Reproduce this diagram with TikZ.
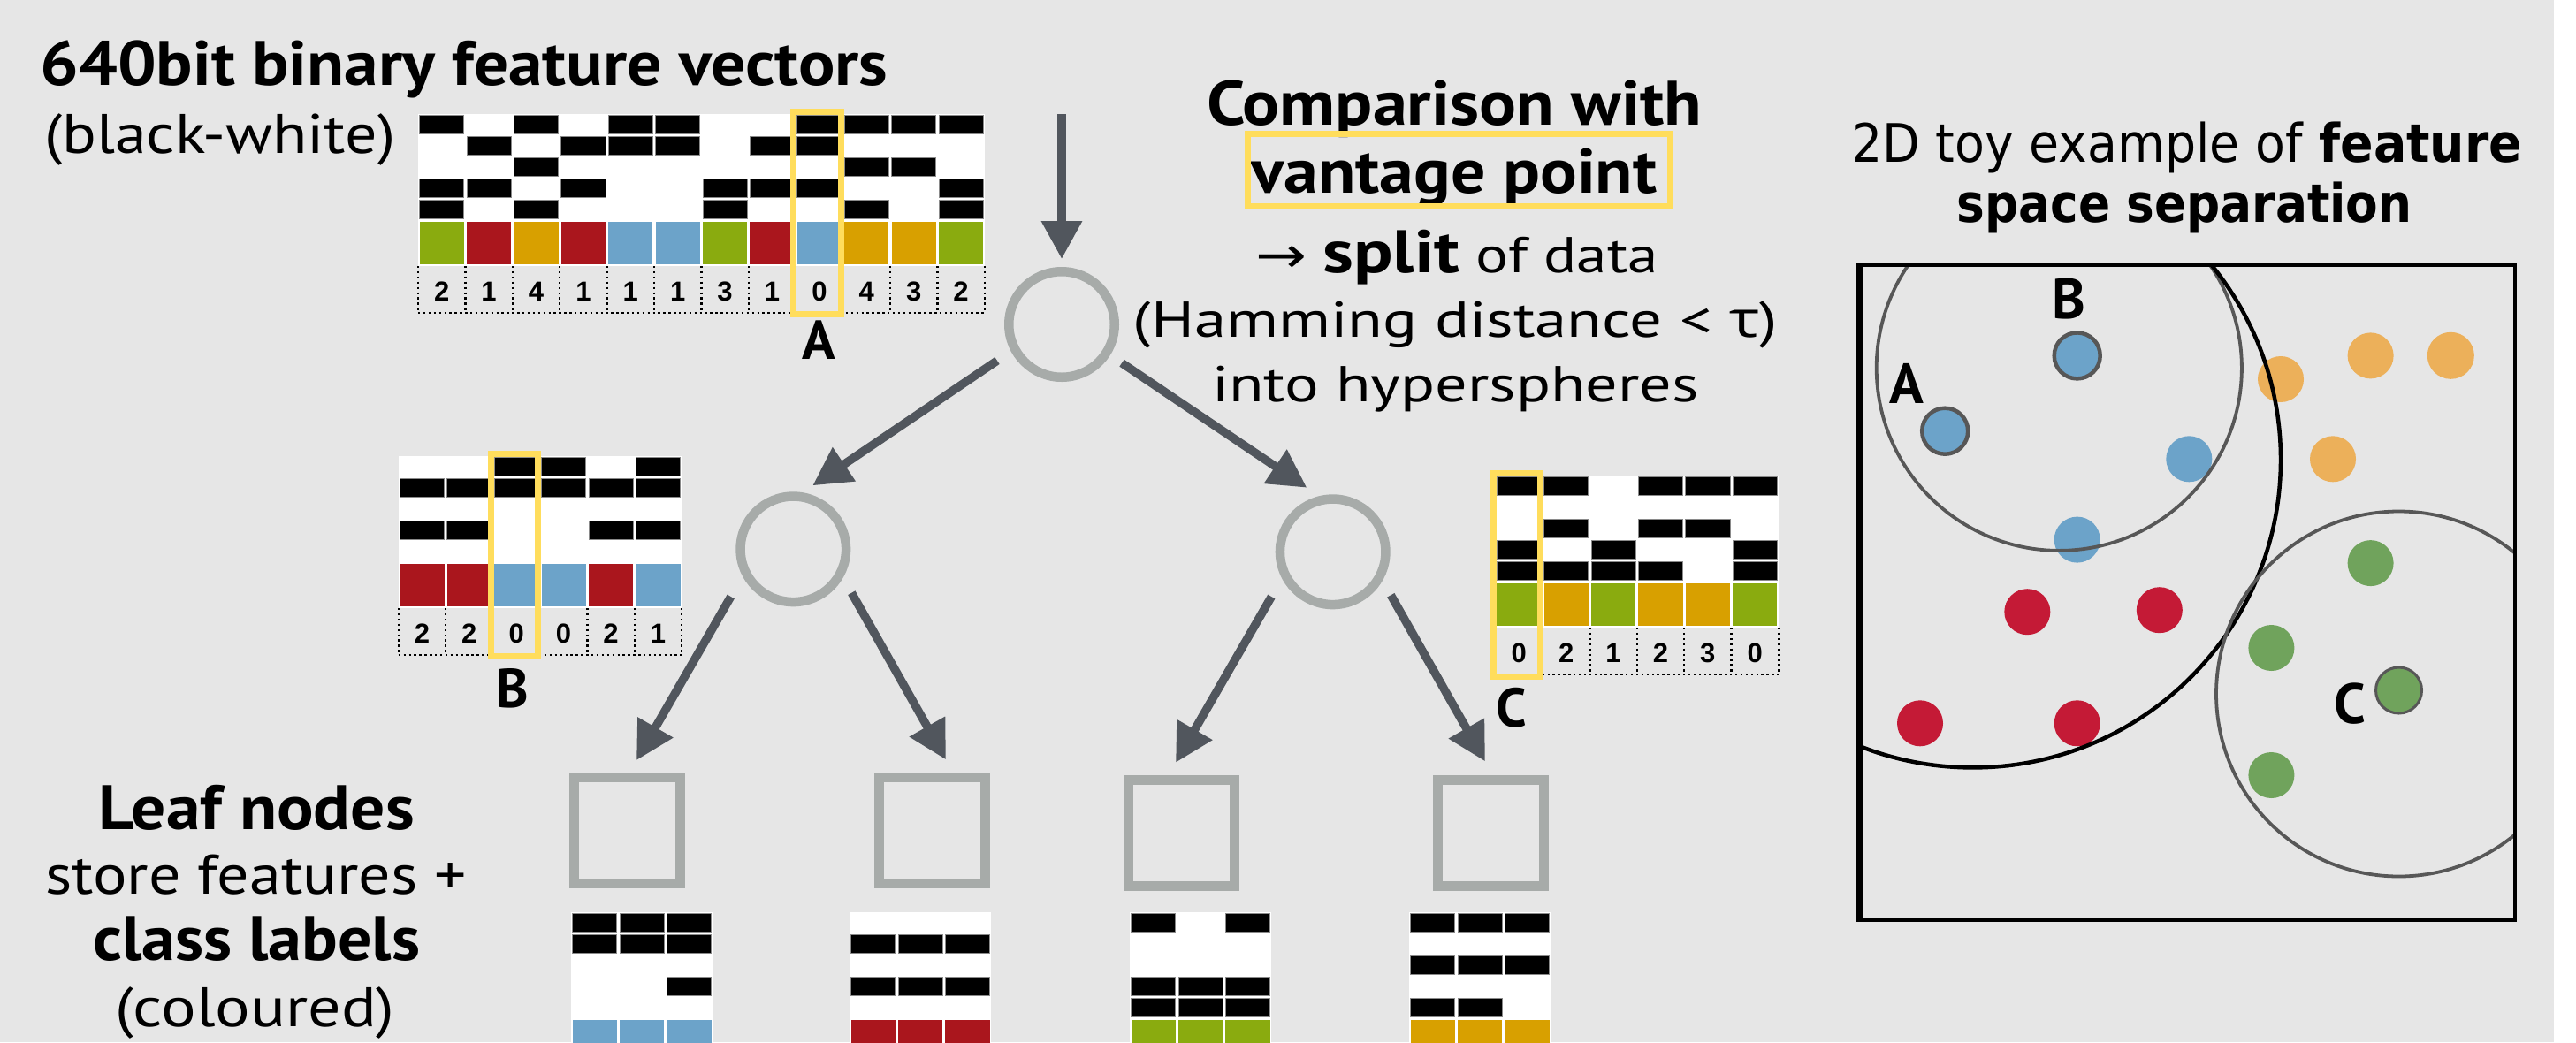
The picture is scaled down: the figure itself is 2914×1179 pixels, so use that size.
\documentclass[tikz,border=0pt]{standalone}
\usepackage{fontspec}
\setmainfont{PT Sans}
\newfontfamily\greekfont{Open Sans}
\newfontfamily\arrowfont{DejaVu Sans}
\newfontfamily\digitfont{Liberation Sans}
\newfontfamily\panelfont{DejaVu Sans}
\usetikzlibrary{arrows.meta,calc}

\definecolor{bgc}{HTML}{E6E6E6}
\definecolor{arrowc}{HTML}{51565D}
\definecolor{nodec}{HTML}{A7ABA9}
\definecolor{vpyellow}{HTML}{FFDD5C}
\definecolor{celledge}{HTML}{8A8A8A}
\definecolor{cgreen}{HTML}{8AAB0F}
\definecolor{cred}{HTML}{AA161D}
\definecolor{corange}{HTML}{D8A000}
\definecolor{cblue}{HTML}{6CA3C9}
\definecolor{pblue}{HTML}{6CA3C9}
\definecolor{pred}{HTML}{C41A36}
\definecolor{porange}{HTML}{ECB05A}
\definecolor{pgreen}{HTML}{70A35C}
\definecolor{ringc}{HTML}{575757}

% squeeze or stretch a line of text to a given width, height unchanged
\newcommand\fitw[2]{\resizebox{#1pt}{\height}{#2}}

% cell geometry of the feature matrices
\def\cw{53.4}
\def\rh{24}
\def\ch{52}
\def\hn{53}

% black-white bit rows and class colour row of a feature matrix
% #1 left, #2 top, #3 columns, #4 black cells as row/{columns}, #5 colours
\newcommand\featmat[5]{%
  \fill[white] (#1,#2) rectangle ({#1+#3*\cw},{#2+5*\rh+\ch});
  \foreach \r/\cols in {#4}{%
    \foreach \c in \cols{%
      \filldraw[fill=black,draw=celledge,line width=0.8pt]
        ({#1+\c*\cw+1.6},{#2+\r*\rh+1.3}) rectangle ({#1+(\c+1)*\cw-1.6},{#2+(\r+1)*\rh-1.3});
    }}
  \foreach \cc [count=\i from 0] in {#5}{%
    \fill[\cc] ({#1+\i*\cw+1.6},{#2+5*\rh+1.6}) rectangle ({#1+(\i+1)*\cw-1.6},{#2+5*\rh+\ch-1.6});
  }
}

% dotted row of Hamming distances
% #1 left, #2 top of row, #3 columns, #4 digits, #5 name prefix
\newcommand\numrow[5]{%
  \foreach \i in {0,...,#3}{\draw[dotline] ({#1+\i*\cw},#2) -- ({#1+\i*\cw},{#2+\hn});}
  \draw[dotline] (#1,{#2+\hn}) -- ({#1+#3*\cw},{#2+\hn});
  \foreach \nn [count=\i from 0] in {#4}{%
    \node[digit] (#5\i) at ({#1+(\i+0.5)*\cw},{#2+\hn/2+2}) {\nn};}
}

% yellow frame round the vantage point column
% #1 left, #2 top, #3 column, #4 bottom
\newcommand\vpbox[4]{%
  \draw[vpyellow,line width=7pt] ({#1+#3*\cw-2.5},{#2-3}) rectangle ({#1+(#3+1)*\cw-2.5},{#4});
}

\tikzset{
  arr/.style={draw=arrowc, line width=9.5pt, -{Triangle[length=43pt,width=44pt]}},
  vpnode/.style={circle, draw=nodec, line width=10.5pt, minimum size=119.5pt, inner sep=0pt},
  leafnode/.style={rectangle, draw=nodec, line width=11pt, minimum width=120pt, minimum height=120pt, inner sep=0pt},
  lbl/.style={inner sep=0pt, outer sep=0pt, anchor=base},
  dotline/.style={line width=2.4pt, dash pattern=on 2.4pt off 3.5pt},
  digit/.style={inner sep=0pt, font=\digitfont\bfseries\fontsize{31}{32}\selectfont},
  boldtxt/.style={lbl, font=\fontsize{71}{80}\selectfont\bfseries},
  midtxt/.style={lbl, font=\fontsize{57}{64}\selectfont},
  lefttxt/.style={lbl, font=\fontsize{63}{70}\selectfont},
  letter/.style={lbl, font=\fontsize{62}{70}\selectfont\bfseries},
  paneltxt/.style={lbl, font=\panelfont\fontsize{60}{66}\selectfont},
}

\begin{document}
\begin{tikzpicture}[x=1pt,y=-1pt]
\useasboundingbox (0,0) rectangle (2914,1179);
\clip (0,0) rectangle (2914,1179);
\fill[bgc] (0,0) rectangle (2914,1179);
\fill[white] (2889,0) rectangle (2914,1179);

% ---------- headline on the left ----------
\node[boldtxt] (title) at (525,96.7) {\fitw{959}{640bit binary feature vectors}};
\node[lefttxt] (bwnote) at (248.6,173) {\fitw{397}{(black-white)}};

% ---------- input feature vectors, vantage point A ----------
\featmat{473}{129}{12}{0/{0,2,4,5,8,9,10,11},1/{1,3,4,5,7,8},2/{2,9,10},3/{0,1,3,6,7,8,11},4/{0,2,6,9,11}}
  {cgreen,cred,corange,cred,cblue,cblue,cgreen,cred,cblue,corange,corange,cgreen}
\numrow{473}{301}{12}{2,1,4,1,1,1,3,1,0,4,3,2}{na}
\vpbox{473}{129}{8}{355}
\node[letter] (labA) at (926.7,406.7) {A};

% ---------- left split, vantage point B ----------
\featmat{450.7}{516}{6}{0/{2,3,5},1/{0,1,2,3,4,5},3/{0,1,4,5}}
  {cred,cred,cblue,cblue,cred,cblue}
\numrow{450.7}{688}{6}{2,2,0,0,2,1}{nb}
\vpbox{450.7}{516}{2}{742}
\node[letter] (labB) at (580,800.5) {B};

% ---------- right split, vantage point C ----------
\featmat{1691.5}{538}{6}{0/{0,1,3,4,5},2/{1,3,4},3/{0,2,5},4/{0,1,2,3,5}}
  {cgreen,corange,cgreen,corange,corange,cgreen}
\numrow{1691.5}{710}{6}{0,2,1,2,3,0}{nc}
\vpbox{1691.5}{538}{0}{765}
\node[letter] (labC) at (1710,822) {C};

% ---------- explanation of the split ----------
\node[boldtxt] (cmp1) at (1645,141.7) {\fitw{560}{Comparison with}};
\node[boldtxt] (cmp2) at (1645,218.3) {\fitw{459}{vantage point}};
\draw[vpyellow,line width=7pt] (1411.8,151.8) rectangle (1889.9,233.2);
\node[midtxt] (cmp3) at (1648,308.3) {\fitw{456}{{\arrowfont →} {\bfseries\fontsize{68}{70}\selectfont split} of data}};
\node[midtxt] (cmp4) at (1646.5,381) {\fitw{729}{(Hamming distance < {\greekfont τ})}};
\node[midtxt] (cmp5) at (1646.5,454) {\fitw{551}{into hyperspheres}};

% ---------- tree ----------
\node[vpnode] (root) at (1201,367) {};
\node[vpnode] (nl) at (897.3,621.3) {};
\node[vpnode] (nr) at (1507.7,624.3) {};
\node[leafnode] (lf1) at (709.5,939.6) {};
\node[leafnode] (lf2) at (1054.2,939.6) {};
\node[leafnode] (lf3) at (1336,942.2) {};
\node[leafnode] (lf4) at (1686,942.2) {};

\coordinate (in) at (1201,129);
\draw[arr] (in) -- ($(root.center)+(0,-74)$);
\draw[arr] ($(root.center)+(-73,41)$) -- ($(nl.center)+(22,-72)$);
\draw[arr] ($(root.center)+(68,43.7)$) -- ($(nr.center)+(-29.4,-72.6)$);
\draw[arr] ($(nl.center)+(-70.6,53.7)$) -- ($(lf1.center)+(10.5,-79.5)$);
\draw[arr] ($(nl.center)+(66,49.4)$) -- ($(lf2.center)+(15.8,-80.2)$);
\draw[arr] ($(nr.center)+(-69.4,50.7)$) -- ($(lf3.center)+(-6,-79.5)$);
\draw[arr] ($(nr.center)+(65.6,49)$) -- ($(lf4.center)+(-6,-80.8)$);

% ---------- leaf contents ----------
\featmat{646}{1032}{3}{0/{0,1,2},1/{0,1,2},3/{2}}{cblue,cblue,cblue}
\featmat{961}{1032}{3}{1/{0,1,2},3/{0,1,2}}{cred,cred,cred}
\featmat{1278}{1032}{3}{0/{0,2},3/{0,1,2},4/{0,1,2}}{cgreen,cgreen,cgreen}
\featmat{1594}{1032}{3}{0/{0,1,2},2/{0,1,2},4/{0,1}}{corange,corange,corange}

\node[boldtxt] (leaf1) at (290.2,938.3) {\fitw{357}{Leaf nodes}};
\node[lefttxt] (leaf2) at (289.6,1011.7) {\fitw{477}{store features +}};
\node[boldtxt] (leaf3) at (290.2,1086.7) {\fitw{370}{class labels}};
\node[lefttxt] (leaf4) at (288.6,1161.7) {\fitw{316}{(coloured)}};

% ---------- 2D feature space ----------
\node[paneltxt] (ptitle1) at (2473.7,183.3) {\fitw{759}{2D toy example of \textbf{feature}}};
\node[paneltxt] (ptitle2) at (2471,251.2) {\fitw{515}{\textbf{space separation}}};

\fill[pblue] (2476.3,519.3) circle[radius=26pt];
\fill[pblue] (2349.7,610.6) circle[radius=26pt];
\fill[pred] (2293.3,692.2) circle[radius=26pt];
\fill[pred] (2442.8,690.2) circle[radius=26pt];
\fill[pred] (2172,818.3) circle[radius=26pt];
\fill[pred] (2349.7,818.3) circle[radius=26pt];
\fill[porange] (2580,429) circle[radius=26pt];
\fill[porange] (2681.6,402.4) circle[radius=26pt];
\fill[porange] (2772.3,402.3) circle[radius=26.5pt];
\fill[porange] (2639,519.3) circle[radius=26pt];
\fill[pgreen] (2681.6,637.1) circle[radius=26pt];
\fill[pgreen] (2569.4,733) circle[radius=26pt];
\fill[pgreen] (2569.4,877) circle[radius=26pt];
\filldraw[fill=pblue,draw=ringc,line width=4.5pt] (2200.2,487.7) circle[radius=26pt];
\filldraw[fill=pblue,draw=ringc,line width=4.5pt] (2349.7,402.4) circle[radius=26pt];
\filldraw[fill=pgreen,draw=ringc,line width=3pt] (2713.5,781) circle[radius=26pt];

\begin{scope}
  \clip (2102,300) rectangle (2845,1041);
  \draw[ringc,line width=3.8pt] (2329.3,416.3) circle[radius=206.6pt];
  \draw[black,line width=4.5pt] (2231.6,520) circle[radius=348.4pt];
  \draw[ringc,line width=3.8pt] (2713.5,785) circle[radius=206.5pt];
\end{scope}
\draw[black,line width=4.2pt] (2102,300) rectangle (2845,1041);
\draw[black,line width=7.5pt] (2103.5,298) -- (2103.5,1043);

\node[letter,font=\fontsize{64}{70}\selectfont\bfseries] (pA) at (2156.6,456) {A};
\node[letter,font=\fontsize{64}{70}\selectfont\bfseries] (pB) at (2340,360) {B};
\node[letter,font=\fontsize{64}{70}\selectfont\bfseries] (pC) at (2658.6,818) {C};
\end{tikzpicture}
\end{document}
